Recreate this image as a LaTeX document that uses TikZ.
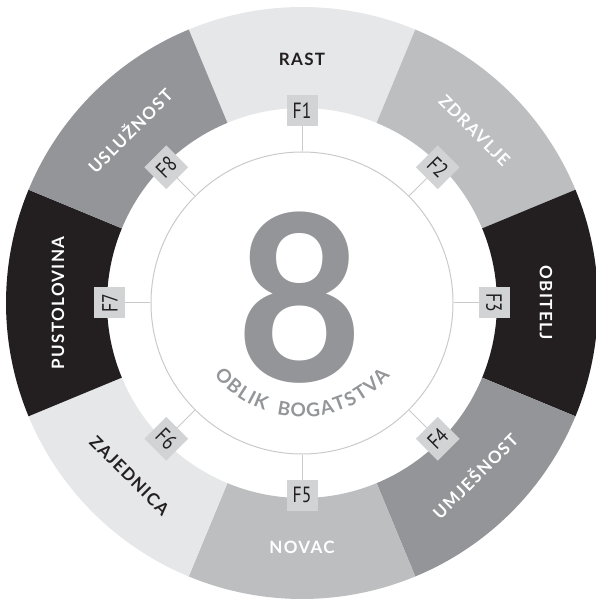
\documentclass[tikz,border=0pt]{standalone}
\usepackage{fontspec}
\usepackage{graphicx}
\setmainfont{Lato}
\newfontfamily\labfont[LetterSpace=8]{Lato}
\newfontfamily\ffont{PT Sans}
\definecolor{lite}{HTML}{E6E7E8}
\definecolor{mid}{HTML}{BCBEC0}
\definecolor{drk}{HTML}{939598}
\definecolor{blk}{HTML}{231F20}
\definecolor{boxc}{HTML}{D1D3D4}
\definecolor{linec}{HTML}{C9CACC}
\begin{document}
\begin{tikzpicture}[
  seglabel/.style={font=\labfont\bfseries\fontsize{17}{17}\selectfont, inner sep=0pt},
  subl/.style={font=\bfseries\fontsize{19}{19}\selectfont, text=drk, inner sep=0pt, anchor=base},
  fbox/.style={fill=boxc, minimum size=31pt, inner sep=0pt, text=blk, font=\ffont\fontsize{22}{22}\selectfont},
  conn/.style={draw=linec, line width=1pt},
]
\useasboundingbox (-302pt,-298pt) rectangle (293pt,303pt);
% ring segments
\foreach \a/\c in {90/lite,45/mid,0/blk,-45/drk,-90/mid,-135/lite,180/blk,135/drk}{
  \fill[\c] (\a-22.5:195pt) arc[start angle=\a-22.5, end angle=\a+22.5, radius=195pt]
     -- (\a+22.5:296pt) arc[start angle=\a+22.5, end angle=\a-22.5, radius=296pt] -- cycle;
}
% inner thin circle
\node[circle, draw=linec, line width=1pt, minimum size=302pt, inner sep=0pt] (inner) at (0,0) {};
% labels, boxes, connectors
\foreach \a/\t/\tc/\r/\n in {90/RAST/blk/0/1,45/ZDRAVLJE/white/-45/2,0/OBITELJ/white/-90/3,-45/UMJEŠNOST/white/45/4,-90/NOVAC/white/0/5,-135/ZAJEDNICA/blk/-45/6,180/PUSTOLOVINA/white/90/7,135/USLUŽNOST/white/45/8}{
  \node[seglabel, text=\tc, rotate=\r] (L\n) at (\a:244pt) {\t};
  \draw[conn] (inner.\a) -- (\a:192pt);
  \node[fbox, rotate=\r] (F\n) at (\a:192pt) {\scalebox{0.8}[1]{F\n}};
}
% big eight
\node[text=drk, inner sep=0pt, font=\bfseries\fontsize{232}{232}\selectfont] (eight) at (-2pt,5pt) {\scalebox{0.94}[1]{8}};
% curved subtitle, letter by letter
\foreach \ang/\ch/\k in {223.3/O/1,230.9/B/2,237.3/L/3,242.2/I/4,247.7/K/5,260.4/B/6,268.0/O/7,275.9/G/8,283.4/A/9,290.3/T/10,296.7/S/11,303.0/T/12,310.2/V/13,317.3/A/14}{
  \node[subl, rotate=\ang-270] (s\k) at (\ang:114pt) {\ch};
}
\end{tikzpicture}
\end{document}
